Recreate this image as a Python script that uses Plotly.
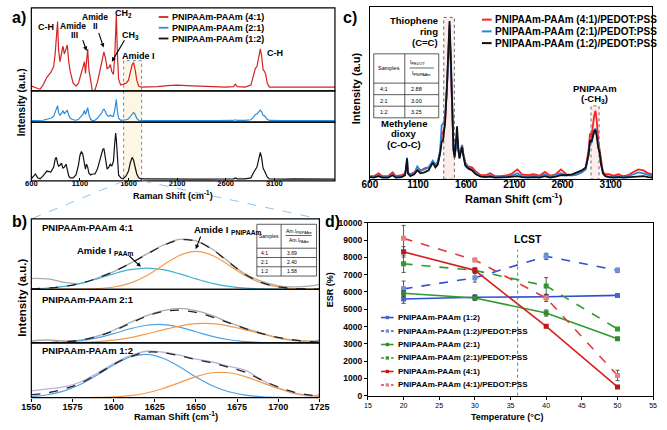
import math
import plotly.graph_objects as go

W, H = 667, 430
FONT = "Liberation Sans, Arial, sans-serif"

# ---------------- Panel a : Raman spectra of hydrogels ----------------
shift_a = [600, 620, 642, 665, 690, 720, 760, 800, 830, 845,
           857, 870, 880, 895, 910, 925, 940, 957, 970, 985,
           1000, 1030, 1060, 1085, 1100, 1115, 1130, 1147, 1157, 1168,
           1180, 1192, 1210, 1230, 1255, 1280, 1300, 1320, 1335, 1347,
           1362, 1380, 1398, 1413, 1428, 1445, 1458, 1468, 1475, 1485,
           1498, 1520, 1545, 1575, 1600, 1620, 1638, 1652, 1668, 1685,
           1705, 1730, 1800, 1900, 2000, 2100, 2200, 2300, 2400, 2500,
           2600, 2680, 2700, 2720, 2800, 2860, 2885, 2905, 2922, 2940,
           2957, 2970, 2985, 3000, 3012, 3028, 3050, 3100, 3200, 3300,
           3400, 3500, 3600, 3725]
int_a_41 = [5, 4.5, 3.5, 2.5, 2, 6, 14, 19, 25, 38,
            55, 71, 42, 30, 38, 46, 38, 44, 47, 30,
            20, 8, 5, 8, 13, 20, 24, 30, 18, 27,
            43, 22, 8, -1, 1, 9, 18, 28, 36, 40,
            34, 23, 24, 27, 20, 17, 35, 65, 78, 40,
            12, 6, 7, 8, 11, 19, 27, 29, 22, 11,
            5, 4, 4, 4.5, 5.5, 6, 5.5, 5, 4.5, 4.5,
            4, 4.5, 7, 4.5, 4, 6, 15, 23, 25, 33,
            43, 36, 22, 20, 17, 8, 4, 4, 4, 4,
            4, 4, 4, 4]
int_a_21 = [1.7, 1.7, 1.5, 1.5, 1.5, 2, 3, 4, 6, 10,
            15, 17, 10, 7, 9, 11.5, 9, 11, 12, 7,
            4, 2.5, 2, 3, 4.5, 7, 8, 12, 8, 11,
            15, 8, 3, 1.5, 2, 4, 6, 9, 12, 13.3,
            11, 7, 6, 7.3, 6, 6, 12, 20, 23.3, 12,
            4, 2, 2, 2.5, 3.5, 6, 9, 10, 8, 4,
            2, 1.7, 1.6, 1.7, 1.8, 2, 1.8, 1.7, 1.6, 1.6,
            1.6, 1.8, 2.5, 1.8, 1.8, 2.5, 5, 8, 8.5, 10,
            12.3, 11, 7, 6.5, 5, 3, 1.8, 1.6, 1.6, 1.6,
            1.6, 1.6, 1.6, 1.6]
int_a_12 = [2, 4, 7, 3, 2, 5, 10, 9, 14, 22,
            24, 18, 15, 16, 18, 13, 14, 17, 12, 5,
            3, 3, 6, 16, 26, 30, 27, 14, 12, 17,
            14, 8, 6, 7, 7, 12, 20, 27, 32, 33,
            25, 12, 14, 17, 15, 20, 38, 49, 42, 20,
            6, 3, 2, 5, 10, 19, 24, 21, 13, 7,
            3, 2, 2, 1.8, 1.8, 2, 1.8, 1.7, 1.7, 1.7,
            1.7, 2, 3, 2, 2, 3, 8, 12, 14, 22,
            29, 24, 13, 10, 8, 4, 2, 1.8, 1.8, 2,
            1.8, 1.8, 1.8, 1.8]
names_a = ["PNIPAAm-PAAm (4:1)", "PNIPAAm-PAAm (2:1)", "PNIPAAm-PAAm (1:2)"]
ticks_a = [600, 1100, 1600, 2100, 2600, 3100]

# ---------------- Panel b : Amide I deconvolution ----------------
shift_b = [1550, 1560, 1570, 1580, 1590, 1600, 1610, 1620, 1630, 1640,
           1650, 1660, 1670, 1680, 1690, 1700, 1710, 1720, 1725]
raw_41 = [11, 10.5, 7, 6, 11.5, 18, 26.5, 36, 45, 51, 49.5, 41, 28, 15.5, 8, 3.5, 2.5, 3.5, 5]
fit_41 = [0.4, 1.2, 2.9, 6.2, 11.3, 18.1, 26.3, 35.6, 44.6, 50.4, 49.3, 40.6, 27.5, 15.1, 6.7, 2.4, 0.7, 0.15, 0.05]
paam_41 = [0.43, 1.2, 2.9, 6.0, 10.6, 15.8, 20.0, 21.7, 20.0, 15.8, 10.6, 6.0, 2.9, 1.2, 0.43, 0.13, 0.03, 0, 0]
pnip_41 = [0, 0, 0.03, 0.15, 0.66, 2.3, 6.3, 13.9, 24.6, 34.6, 38.7, 34.6, 24.6, 13.9, 6.3, 2.3, 0.66, 0.15, 0.05]
raw_21 = [2, 3, 2, 3, 7, 13, 21, 28, 33, 35.5, 33, 28, 21, 15, 10, 5, 2.5, 2, 3]
fit_21 = [0.09, 0.33, 1.1, 2.9, 6.6, 12.4, 20.0, 27.3, 32.2, 33.5, 31.2, 26.5, 20.6, 14.7, 9.65, 5.6, 2.9, 1.35, 0.88]
paam_21 = [0.07, 0.27, 0.88, 2.4, 5.2, 9.5, 14.5, 18.1, 18.8, 16.2, 11.5, 6.8, 3.3, 1.3, 0.45, 0.12, 0.03, 0, 0]
pnip_21 = [0.02, 0.06, 0.2, 0.55, 1.35, 2.9, 5.5, 9.2, 13.4, 17.3, 19.7, 19.7, 17.3, 13.4, 9.2, 5.5, 2.9, 1.35, 0.88]
raw_12 = [7, 9, 11, 16, 25, 35, 43, 47.5, 46.5, 43.5, 39.5, 36.5, 32, 28, 18, 10, 4, 1.5, 3]
fit_12 = [3, 5, 9, 15, 24, 34, 42, 46.5, 46, 43, 39, 35.5, 31, 26, 18, 11, 5.5, 2.5, 1.5]
paam_12 = [1.14, 3.0, 7.0, 13.7, 23.2, 33.5, 41.6, 44.3, 40.4, 31.6, 21.1, 12.2, 6.0, 2.5, 0.92, 0.28, 0.08, 0.02, 0]
pnip_12 = [0, 0, 0.01, 0.06, 0.24, 0.77, 2.1, 4.8, 9.4, 15.4, 21.6, 25.5, 25.5, 21.6, 15.4, 9.4, 4.8, 2.1, 1.3]
titles_b = ["PNIPAAm-PAAm 4:1", "PNIPAAm-PAAm 2:1", "PNIPAAm-PAAm 1:2"]
ticks_b = [1550, 1575, 1600, 1625, 1650, 1675, 1700, 1725]
samples = ["4:1", "2:1", "1:2"]
ratio_amide = ["3.69", "2.40", "1.58"]

# ---------------- Panel c : Raman spectra with PEDOT:PSS ----------------
shift_c = [600, 640, 690, 730, 790, 836, 870, 930, 965, 978,
           986, 995, 1020, 1060, 1092, 1125, 1166, 1210, 1253, 1280,
           1305, 1330, 1345, 1360, 1380, 1400, 1415, 1427, 1440, 1455,
           1468, 1480, 1492, 1505, 1517, 1530, 1545, 1557, 1570, 1590,
           1620, 1660, 1700, 1750, 1800, 1850, 1900, 1960, 2030, 2080,
           2131, 2180, 2240, 2300, 2360, 2416, 2470, 2530, 2583, 2640,
           2700, 2750, 2800, 2840, 2870, 2885, 2900, 2915, 2930, 2942,
           2955, 2970, 2985, 3000, 3020, 3045, 3080, 3130, 3180, 3230,
           3280, 3330, 3387, 3440, 3490, 3530]
int_c_41 = [3, 3, 6, 3, 3, 7, 3, 4, 6, 10,
            15, 6, 5, 7, 10, 8, 11, 12, 18, 14,
            16, 28, 45, 48, 55, 88, 125, 155, 118, 62,
            32, 25, 32, 44, 30, 23, 30, 35, 26, 17,
            13, 12, 8, 4, 4, 6, 3, 3, 4, 6,
            10, 5, 4, 5, 3.5, 7.5, 3.5, 5, 10, 5,
            4, 5, 7, 11, 30, 47, 43, 55, 66, 70,
            60, 40, 30, 18, 7, 5, 5, 3.5, 5, 3,
            4, 7, 10, 9, 6, 5]
int_c_21 = [2, 2, 4, 2, 2, 5, 2, 3, 5, 12,
            22, 7, 4, 6, 13, 9, 10, 12, 19, 15,
            18, 30, 55, 57, 62, 92, 130, 158, 120, 60,
            30, 24, 30, 45, 30, 22, 30, 34, 25, 16,
            12, 10, 6, 3, 3, 4, 2, 2, 3, 4,
            6, 3, 3, 3.5, 2.5, 5, 2.5, 4, 6, 4,
            4, 5, 7, 10, 25, 40, 37, 44, 50, 52,
            46, 34, 28, 16, 6, 3, 2.5, 2, 3, 2,
            3, 5, 7, 6, 4, 3]
int_c_12 = [2, 1.5, 3, 1.5, 1.5, 4, 1.5, 2, 4, 12,
            21, 6, 3, 5, 9, 6, 7, 9, 17, 12,
            15, 27, 38, 40, 58, 95, 135, 162, 125, 62,
            30, 22, 35, 54, 32, 21, 28, 33, 24, 14,
            11, 9, 5, 2.5, 2, 2.5, 1.5, 1.5, 2, 2.5,
            3, 2, 1.5, 2, 1.5, 3, 1.5, 2.5, 4, 4,
            5, 7, 9, 12, 25, 40, 38, 44, 50, 50,
            44, 32, 27, 15, 6, 3, 2, 1.5, 2, 1.5,
            2, 2.5, 3, 3, 2, 1.5]
names_c = ["PNIPAAm-PAAm (4:1)/PEDOT:PSS", "PNIPAAm-PAAm (2:1)/PEDOT:PSS",
           "PNIPAAm-PAAm (1:2)/PEDOT:PSS"]
ratio_pedot = ["2.88", "3.00", "3.25"]

# ---------------- Panel d : ESR vs temperature ----------------
temps = [20, 30, 40, 50]
esr_12 = [5590, 5690, 5720, 5800]
err_12 = [250, 150, 100, 80]
esr_12p = [6180, 6820, 8060, 7250]
err_12p = [450, 250, 180, 130]
esr_21 = [5930, 5650, 4780, 3300]
err_21 = [150, 150, 180, 80]
esr_21p = [7630, 7250, 6350, 3860]
err_21p = [500, 100, 480, 80]
esr_41 = [8320, 7250, 4010, 510]
err_41 = [300, 150, 80, 80]
esr_41p = [9100, 7850, 5650, 1170]
err_41p = [750, 100, 200, 300]
names_d = ["PNIPAAm-PAAm (1:2)", "PNIPAAm-PAAm (1:2)/PEDOT:PSS",
           "PNIPAAm-PAAm (2:1)", "PNIPAAm-PAAm (2:1)/PEDOT:PSS",
           "PNIPAAm-PAAm (4:1)", "PNIPAAm-PAAm (4:1)/PEDOT:PSS"]
lcst = 36


def px(xp):
    return xp / W


def py(yp):
    return 1 - yp / H


fig = go.Figure()
shapes = []
anns = []


def box(x0, y0, x1, y1, color="black", width=1.2, fill=None, dash=None, layer="above"):
    d = dict(type="rect", xref="paper", yref="paper", x0=px(x0), x1=px(x1),
             y0=py(y1), y1=py(y0), line=dict(color=color, width=width), layer=layer)
    if dash:
        d["line"]["dash"] = dash
    if fill:
        d["fillcolor"] = fill
    shapes.append(d)


def seg(x0, y0, x1, y1, color="black", width=1, dash=None):
    d = dict(type="line", xref="paper", yref="paper", x0=px(x0), x1=px(x1),
             y0=py(y0), y1=py(y1), line=dict(color=color, width=width))
    if dash:
        d["line"]["dash"] = dash
    shapes.append(d)


def txt(x, y, s, size, bold=True, xanchor="center", yanchor="middle", angle=0, color="black"):
    anns.append(dict(x=px(x), y=py(y), xref="paper", yref="paper", text=s, showarrow=False,
                     xanchor=xanchor, yanchor=yanchor, textangle=angle,
                     font=dict(family=FONT, size=size, color=color,
                               weight="bold" if bold else "normal")))


def arrow(tx, ty, hx, hy):
    # shaft plus a small filled head, drawn as shapes (pixel geometry)
    L = math.hypot(hx - tx, hy - ty)
    ux, uy = (hx - tx) / L, (hy - ty) / L
    bx, by = hx - 4.5 * ux, hy - 4.5 * uy
    seg(tx, ty, bx, by, width=1.1)
    pts = [(hx, hy), (bx - 2.2 * uy, by + 2.2 * ux), (bx + 2.2 * uy, by - 2.2 * ux)]
    path = "M " + " L ".join(f"{px(a):.5f},{py(b):.5f}" for a, b in pts) + " Z"
    shapes.append(dict(type="path", xref="paper", yref="paper", path=path,
                       fillcolor="black", line=dict(width=0)))


# ---- panel a traces
cols_a = ["#d62222", "#2b8ddf", "#111111"]
for ys, yax, c, n in zip([int_a_41, int_a_21, int_a_12], ["y", "y2", "y3"], cols_a, names_a):
    fig.add_trace(go.Scatter(x=shift_a, y=ys, xaxis="x", yaxis=yax, mode="lines", name=n,
                             line=dict(color=c, width=1.2), showlegend=False))

# ---- panel b traces
sets_b = [(raw_41, fit_41, paam_41, pnip_41, "y4", "#aaaaaa", "#3fb0d6"),
          (raw_21, fit_21, paam_21, pnip_21, "y5", "#aaaaaa", "#4ea3e4"),
          (raw_12, fit_12, paam_12, pnip_12, "y6", "#bfb0d6", "#4ea3e4")]
for raw, fit, pa, pn, yax, rc, bc in sets_b:
    fig.add_trace(go.Scatter(x=shift_b, y=raw, xaxis="x2", yaxis=yax, mode="lines",
                             line=dict(color=rc, width=1.3, shape="spline"), showlegend=False))
    fig.add_trace(go.Scatter(x=shift_b, y=pa, xaxis="x2", yaxis=yax, mode="lines",
                             line=dict(color=bc, width=1.2, shape="spline"), showlegend=False))
    fig.add_trace(go.Scatter(x=shift_b, y=pn, xaxis="x2", yaxis=yax, mode="lines",
                             line=dict(color="#f59a48", width=1.2, shape="spline"), showlegend=False))
    fig.add_trace(go.Scatter(x=shift_b, y=fit, xaxis="x2", yaxis=yax, mode="lines",
                             line=dict(color="#222222", width=1.3, dash="dash", shape="spline"),
                             showlegend=False))

# ---- panel c traces
cols_c = ["#ff2020", "#2b86d8", "#111111"]
for ys, c, n in zip([int_c_41, int_c_21, int_c_12], cols_c, names_c):
    fig.add_trace(go.Scatter(x=shift_c, y=ys, xaxis="x3", yaxis="y7", mode="lines", name=n,
                             line=dict(color=c, width=1.8), showlegend=False))

# ---- panel d traces
d_series = [(esr_12, err_12, "#2f4fd6", "#4a66c8", "solid"),
            (esr_12p, err_12p, "#2f4fd6", "#6f90e0", "dash"),
            (esr_21, err_21, "#2e9b2e", "#2e8b2e", "solid"),
            (esr_21p, err_21p, "#2e9b2e", "#2e9b2e", "dash"),
            (esr_41, err_41, "#d42424", "#c01818", "solid"),
            (esr_41p, err_41p, "#e23a3a", "#e88080", "dash")]
for (ys, er, lc, mc, ds), n in zip(d_series, names_d):
    fig.add_trace(go.Scatter(x=temps, y=ys, xaxis="x4", yaxis="y8", mode="lines+markers", name=n,
                             line=dict(color=lc, width=1.6, dash=ds),
                             marker=dict(symbol="square", size=5, color=mc),
                             error_y=dict(type="data", array=er, color="#444444", thickness=0.9, width=2),
                             showlegend=False))

# ---------------- layout / axes ----------------
hid = dict(showticklabels=False, showgrid=False, zeroline=False, ticks="", showline=False)
tick_common = dict(showgrid=False, zeroline=False, ticks="outside", ticklen=3, tickcolor="black")

layout = dict(
    width=W, height=H, margin=dict(l=0, r=0, t=0, b=0),
    paper_bgcolor="white", plot_bgcolor="rgba(0,0,0,0)", showlegend=False,
    xaxis=dict(domain=[px(22), px(335)], range=[600, 3725], anchor="y3", tickvals=ticks_a,
               ticks="inside", ticklen=3, tickcolor="black", showgrid=False, zeroline=False,
               ticklabelstandoff=-3,
               tickfont=dict(family=FONT, size=7.5, color="black", weight="bold"), showline=False),
    yaxis=dict(domain=[py(88), py(3)], range=[0, 85], anchor="x", **hid),
    yaxis2=dict(domain=[py(120), py(88)], range=[0, 32], anchor="x", **hid),
    yaxis3=dict(domain=[py(180), py(120)], range=[0, 60], anchor="x", **hid),
    xaxis2=dict(domain=[px(22), px(319)], range=[1550, 1725], anchor="y6", tickvals=ticks_b,
                ticklabelstandoff=-2,
                tickfont=dict(family=FONT, size=9, color="black", weight="bold"), showline=False, **tick_common),
    yaxis4=dict(domain=[py(291), py(219)], range=[0, 72], anchor="x2", **hid),
    yaxis5=dict(domain=[py(346), py(291)], range=[0, 55], anchor="x2", **hid),
    yaxis6=dict(domain=[py(402), py(346)], range=[0, 56], anchor="x2", **hid),
    xaxis3=dict(domain=[px(371), px(662)], range=[600, 3530], anchor="y7", tickvals=ticks_a,
                ticklabelstandoff=-7,
                tickfont=dict(family=FONT, size=10, color="black", weight="bold"),
                showline=True, mirror=True, linecolor="black", linewidth=1.2, **tick_common),
    yaxis7=dict(domain=[py(178.3), py(1.7)], range=[0, 176.6], anchor="x3", showticklabels=False,
                showgrid=False, zeroline=False, ticks="", showline=True, mirror=True,
                linecolor="black", linewidth=1.2),
    xaxis4=dict(domain=[px(369), px(663)], range=[15, 55], anchor="y8", dtick=5, tick0=15,
                tickfont=dict(family=FONT, size=7, color="black"),
                showline=True, mirror=True, linecolor="black", linewidth=1.2, **tick_common),
    yaxis8=dict(domain=[py(400), py(223)], range=[0, 10000], anchor="x4", dtick=1000,
                tickformat="d",
                tickfont=dict(family=FONT, size=8.5, color="black", weight="bold"),
                showline=True, mirror=True, linecolor="black", linewidth=1.2, **tick_common),
)

# ---- panel a decorations
shapes.append(dict(type="rect", xref="x", yref="paper", x0=1550, x1=1735, y0=py(180), y1=py(57),
                   fillcolor="#fdf6e2", line=dict(color="#4a90d9", width=1, dash="dot"), layer="below"))
for t in [(22, 3, 335, 88), (22, 88, 335, 120), (22, 120, 335, 180)]:
    box(*t)
seg(117.5, 180, 22, 219, color="#8fc3ee", width=1, dash="dash")
seg(136, 180, 319, 219, color="#8fc3ee", width=1, dash="dash")
txt(9, 13, "a)", 16)
txt(37, 23, "C-H", 9)
txt(65, 21.5, "Amide", 8.5)
txt(67, 31, "III", 8.5)
txt(88, 12.5, "Amide", 8.5)
txt(88, 22, "II", 8.5)
txt(117, 8.5, "CH<sub>2</sub>", 9)
txt(124, 31, "CH<sub>3</sub>", 9)
txt(132, 52, "Amide I", 9)
txt(273, 49.5, "C-H", 9)
arrow(75, 36, 79, 47)
arrow(91.5, 28.5, 96.5, 43.5)
arrow(118, 36, 105, 58)
for i, (n, c) in enumerate(zip(names_a, cols_a)):
    yy = 12.3 + 11 * i
    seg(153.3, yy, 163.3, yy, color=c, width=1.8)
    txt(164.5, yy, n, 9, xanchor="left")
txt(168, 195, "Raman Shift (cm<sup>-1</sup>)", 9)
txt(12, 100, "Intensity (a.u.)", 10, angle=-90)

# ---- panel b decorations
for t in [(22, 219, 319, 291), (22, 291, 319, 346), (22, 346, 319, 402)]:
    box(*t)
txt(10, 222, "b)", 16)
for yy, s in zip([228, 302, 354], titles_b):
    txt(31, yy, s, 9.5, xanchor="left")
txt(67, 252, "Amide I <sub>PAAm</sub>", 9.5, xanchor="left")
arrow(123, 257, 135, 268)
txt(188, 230, "Amide I <sub>PNIPAAm</sub>", 9.5, xanchor="left")
arrow(196.5, 237, 191.5, 250)
# table b
box(254.5, 224.5, 316, 277.5, color="#333", width=0.8)
seg(279.5, 224.5, 279.5, 277.5, color="#333", width=0.8)
for yy in [249, 258.5, 268]:
    seg(254.5, yy, 316, yy, color="#333", width=0.8)
txt(267, 237, "Samples", 5, bold=False)
txt(297.5, 232, "Am.I<sub>PNIPAAm</sub>", 5, bold=False)
seg(284, 236, 311, 236, color="#222", width=0.7)
txt(297.5, 241, "Am.I<sub>PAAm</sub>", 5, bold=False)
for i, (s, r) in enumerate(zip(samples, ratio_amide)):
    yy = 253.7 + 9.5 * i
    txt(257, yy, s, 5, bold=False, xanchor="left")
    txt(283, yy, r, 5, bold=False, xanchor="left")
txt(171, 421, "Raman Shift (cm<sup>-1</sup>)", 9.5)
txt(12, 300, "Intensity (a.u.)", 11.5, angle=-90)

# ---- panel c decorations
shapes.append(dict(type="rect", xref="x3", yref="y7", x0=1367, x1=1477, y0=0, y1=165.6,
                   fillcolor="#fcecec", line=dict(color="#444", width=0.8, dash="dot"), layer="below"))
shapes.append(dict(type="rect", xref="x3", yref="y7", x0=2895, x1=2979, y0=0, y1=75,
                   fillcolor="#fcecec", line=dict(color="#444", width=0.8, dash="dot"), layer="below"))
txt(350, 13, "c)", 16)
txt(443, 16, "Thiophene", 9.5, xanchor="right")
txt(443, 27, "ring", 9.5, xanchor="right")
txt(443, 38, "(C=C)", 9.5, xanchor="right")
txt(406, 121, "Methylene", 9.5)
txt(406, 132, "dioxy", 9.5)
txt(406, 143, "(C-O-C)", 9.5)
txt(603, 85, "PNIPAAm", 9.5)
txt(603, 96.5, "(-CH<sub>3</sub>)", 9.5)
for i, (n, c) in enumerate(zip(names_c, cols_c)):
    yy = 15 + 12 * i
    seg(486.5, yy, 496.5, yy, color=c, width=2)
    txt(497.5, yy, n, 10, xanchor="left")
# table c
box(375, 50, 442, 115.5, color="#333", width=0.8)
seg(407, 50, 407, 115.5, color="#333", width=0.8)
for yy in [80, 91.8, 103.6]:
    seg(375, yy, 442, yy, color="#333", width=0.8)
txt(391, 65, "Samples", 5.5, bold=False)
txt(420, 59, "I<sub>PEDOT</sub>", 5.5, bold=False)
seg(412, 64.5, 437, 64.5, color="#222", width=0.7)
txt(424, 70, "I<sub>PNIPAAm</sub>", 5.5, bold=False)
for i, (s, r) in enumerate(zip(samples, ratio_pedot)):
    yy = 86 + 11.8 * i
    txt(379, yy, s, 5.5, bold=False, xanchor="left")
    txt(411, yy, r, 5.5, bold=False, xanchor="left")
txt(520, 197.5, "Raman Shift (cm<sup>-1</sup>)", 11)
txt(357, 85, "Intensity (a.u)", 11, angle=-90)

# ---- panel d decorations
shapes.append(dict(type="line", xref="x4", yref="y8", x0=lcst, x1=lcst, y0=0, y1=8450,
                   line=dict(color="#777", width=1, dash="dot")))
txt(534, 239.5, "LCST", 10.5)
txt(332, 222, "d)", 16)
txt(330, 292, "ESR (%)", 9, angle=-90)
txt(512, 422, "Temperature (°C)", 9)
for i, ((ys, er, lc, mc, ds), n) in enumerate(zip(d_series, names_d)):
    yy = 320 + 13.8 * i
    seg(382.5, yy, 395.5, yy, color=lc, width=1.6, dash="3px,2px" if ds == "dash" else None)
    shapes.append(dict(type="rect", xref="paper", yref="paper", x0=px(387.3), x1=px(390.7),
                       y0=py(yy + 1.7), y1=py(yy - 1.7), fillcolor=mc, line=dict(width=0)))
    txt(397.5, yy, n, 8, xanchor="left")

layout["shapes"] = shapes
layout["annotations"] = anns
fig.update_layout(**layout)
fig.write_html("out.html")
